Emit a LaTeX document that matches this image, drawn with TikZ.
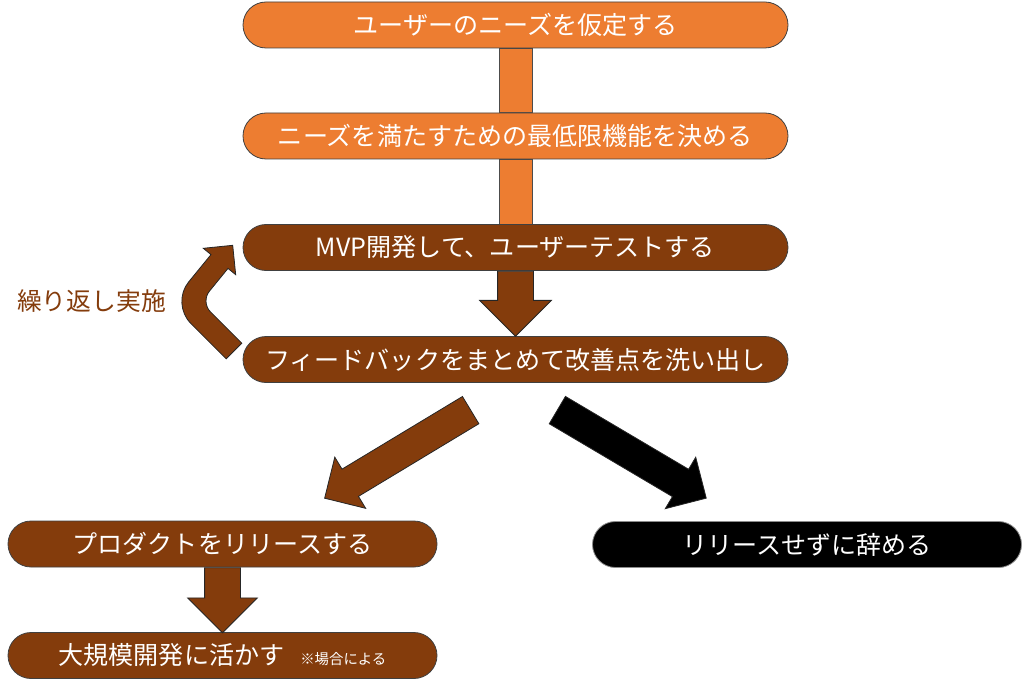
\documentclass[tikz,border=0pt]{standalone}
\usepackage{fontspec}
\setmainfont{Noto Sans CJK JP}
\usetikzlibrary{arrows.meta, positioning, shapes.arrows, backgrounds, calc}
\usepackage{xcolor}
\definecolor{stporange}{HTML}{ED7D31}
\definecolor{stpbrown}{HTML}{843C0C}
\newcommand{\stepfont}{\fontsize{18.8}{22}\selectfont}
\newcommand{\notefont}{\fontsize{10.8}{12}\selectfont}

\begin{document}
\begin{tikzpicture}[
  x=0.75pt, y=-0.75pt,
  stepbox/.style={rectangle, rounded corners=17.25pt, draw=black!75, fill=#1,
                  text=white, minimum width=408.75pt, minimum height=34.5pt,
                  inner sep=0pt, font=\stepfont, line width=0.6pt},
  endbox/.style={stepbox=#1, minimum width=321.75pt},
  linkbar/.style={fill=stporange, draw=black!70, line width=0.6pt},
  blockarrow/.style={single arrow, anchor=tail, draw=black!85, fill=#1,
                     inner xsep=0pt, line width=0.6pt},
  loopshape/.style={fill=stpbrown, draw=black!85, line width=0.6pt},
  looplabel/.style={text=stpbrown, font=\fontsize{18.6}{22}\selectfont}
]
\useasboundingbox (0,0) rectangle (1024,688);

% Planning steps
\node[stepbox=stporange] (needs) at (515.5,25) {ユーザーのニーズを仮定する};
\node[stepbox=stporange] (minimum) at (515.5,136) {ニーズを満たすための最低限機能を決める};

% Build and test loop
\node[stepbox=stpbrown] (mvp) at (515.5,247.5) {MVP開発して、ユーザーテストする};
\node[stepbox=stpbrown] (feedback) at (515.5,359.5) {フィードバックをまとめて改善点を洗い出し};
\node[looplabel] (repeat) at (91.5,301) {繰り返し実施};

% Outcomes
\node[endbox=stpbrown] (release) at (222.5,544) {プロダクトをリリースする};
\node[endbox=stpbrown] (scaleup) at (222.5,655.5) {大規模開発に活かす\hspace{12pt}{\notefont ※場合による}};
\node[endbox=black, draw=black!45] (quit) at (807,544.5) {リリースせずに辞める};

% Orange link bars
\begin{scope}[on background layer]
  \draw[linkbar] ($(needs.south)+(-16.5,0)$) rectangle ($(minimum.north)+(16.5,0)$);
  \draw[linkbar] ($(minimum.south)+(-16.5,0)$) rectangle ($(mvp.north)+(16.5,0)$);
\end{scope}

% Block arrows
\node[blockarrow=stpbrown, rotate=-90, minimum height=48.75pt, minimum width=53.25pt,
      inner ysep=13.125pt, single arrow head extend=13.5pt] (down1) at (mvp.south) {};
\node[blockarrow=stpbrown, rotate=-90, minimum height=48.75pt, minimum width=51.75pt,
      inner ysep=13.125pt, single arrow head extend=12.75pt] (down2) at (release.south) {};
\node[blockarrow=stpbrown, rotate=211.1, minimum height=127.9pt, minimum width=44.25pt,
      inner ysep=11.625pt, single arrow head extend=10.5pt] (toleft) at ($(feedback.south)+(-44.5,27)$) {};
\node[blockarrow=black, rotate=-30.6, minimum height=129.75pt, minimum width=44.25pt,
      inner ysep=11.625pt, single arrow head extend=10.5pt] (toright) at ($(feedback.south)+(41.5,27)$) {};

% Loop arrow back to the MVP step
\draw[loopshape] (226.2,358.8) -- (190.75,323.35)
  .. controls (179.75,312.35) and (178.8,293.96) .. (188.6,282.0)
  -- (211.0,254.6) -- (203.3,248.3) -- (232.7,245.3) -- (235.7,274.7) -- (228.0,268.4)
  -- (209.4,291.2) .. controls (204.5,297.2) and (205.0,306.4) .. (210.45,311.85)
  -- (241.8,343.2) -- cycle;

\end{tikzpicture}
\end{document}
